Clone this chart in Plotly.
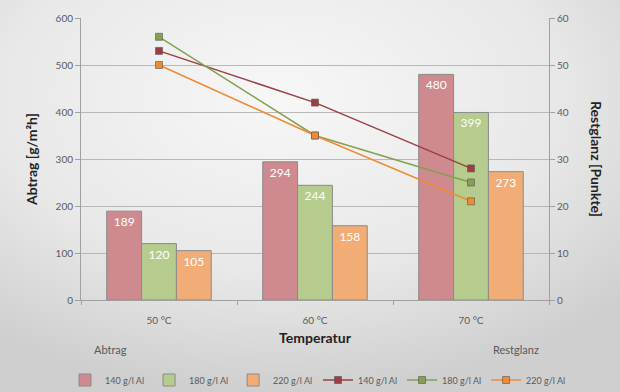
import base64
import plotly.graph_objects as go

categories = ["50 °C", "60 °C", "70 °C"]
series_names = ["140 g/l Al", "180 g/l Al", "220 g/l Al"]
abtrag_140 = [189, 294, 480]
abtrag_180 = [120, 244, 399]
abtrag_220 = [105, 158, 273]
restglanz_140 = [53, 42, 28]
restglanz_180 = [56, 35, 25]
restglanz_220 = [50, 35, 21]

bar_colors = ["#cf8a90", "#b6cc8e", "#f2ad76"]
line_colors = ["#9b3f44", "#84a050", "#ef8b35"]
font_family = "Lato, 'Open Sans', sans-serif"
grey = "#5a5a5a"

fig = go.Figure()
for name, vals, col in zip(series_names, [abtrag_140, abtrag_180, abtrag_220], bar_colors):
    fig.add_trace(go.Bar(
        x=categories, y=vals, name=name, legend="legend",
        marker=dict(color=col, line=dict(color="#8a8a8a", width=1)),
        text=[str(v) for v in vals], textposition="inside", insidetextanchor="end",
        textfont=dict(color="white", size=12, family=font_family),
    ))
for name, vals, col in zip(series_names, [restglanz_140, restglanz_180, restglanz_220], line_colors):
    fig.add_trace(go.Scatter(
        x=categories, y=vals, name=name, yaxis="y2", mode="lines+markers", legend="legend2",
        line=dict(color=col, width=1.5),
        marker=dict(symbol="square", size=7, color=col, line=dict(color="#555555", width=0.6)),
    ))

svg = ('<svg xmlns="http://www.w3.org/2000/svg" width="620" height="392" preserveAspectRatio="none">'
       '<defs><radialGradient id="g" cx="45%" cy="25%" r="75%">'
       '<stop offset="0" stop-color="#f7f7f7"/><stop offset="0.6" stop-color="#e8e8e8"/>'
       '<stop offset="1" stop-color="#cfcfcf"/></radialGradient></defs>'
       '<rect width="620" height="392" fill="url(#g)"/></svg>')
src = "data:image/svg+xml;base64," + base64.b64encode(svg.encode()).decode()

legend_common = dict(orientation="h", xref="container", yref="container",
                     y=1-380/392, yanchor="middle", font=dict(size=9, color=grey),
                     itemwidth=30, traceorder="normal", bgcolor="rgba(0,0,0,0)")

W, H = 468, 282  # plot area size in px
fig.update_layout(
    width=620, height=392,
    margin=dict(l=81, r=71, t=18, b=92, autoexpand=False),
    paper_bgcolor="#e3e3e3", plot_bgcolor="rgba(0,0,0,0)",
    font=dict(family=font_family, color=grey, size=10),
    barmode="group", bargap=0.33, bargroupgap=0,
    images=[dict(source=src, xref="paper", yref="paper", x=-81/W, y=1+18/H,
                 sizex=620/W, sizey=392/H, sizing="stretch", layer="below",
                 xanchor="left", yanchor="top")],
    xaxis=dict(showgrid=False, showline=True, linecolor="#a0a0a0", ticks="outside",
               tickson="boundaries", ticklen=4, tickcolor="#a0a0a0", ticklabelstandoff=11,
               tickfont=dict(size=10, color=grey),
               title=dict(text="<b>Temperatur</b>", font=dict(size=14, color="#222222"), standoff=8)),
    yaxis=dict(range=[0, 600], dtick=100, showgrid=True, gridcolor="#b8b8b8", gridwidth=1,
               showline=True, linecolor="#a0a0a0", ticks="outside", ticklen=5, tickcolor="#a0a0a0",
               tickfont=dict(size=10, color=grey), zeroline=False,
               title=dict(text="<b>Abtrag [g/m²h]</b>", font=dict(size=14, color="#222222"), standoff=14)),
    yaxis2=dict(range=[0, 60], dtick=10, overlaying="y", side="right", showgrid=False,
                showline=True, linecolor="#a0a0a0", ticks="outside", ticklen=5, tickcolor="#a0a0a0",
                tickfont=dict(size=10, color=grey), zeroline=False),
    legend=dict(x=318/620, xanchor="right", **legend_common),
    legend2=dict(x=318/620, xanchor="left", **legend_common),
    annotations=[
        dict(text="<b>Restglanz [Punkte]</b>", xref="paper", yref="paper", x=(597-81)/W, y=0.5,
             xanchor="center", yanchor="middle", textangle=90, showarrow=False,
             font=dict(size=14, color="#222222")),
        dict(text="Abtrag", xref="paper", yref="paper", x=(92-81)/W, y=-(49)/H,
             xanchor="left", yanchor="middle", showarrow=False, font=dict(size=11, color=grey)),
        dict(text="Restglanz", xref="paper", yref="paper", x=(541-81)/W, y=-(49)/H,
             xanchor="right", yanchor="middle", showarrow=False, font=dict(size=11, color=grey)),
    ],
)
fig.write_html("out.html", config={"displayModeBar": False},
               post_script="document.body.style.margin='0';document.body.style.overflow='hidden';")
